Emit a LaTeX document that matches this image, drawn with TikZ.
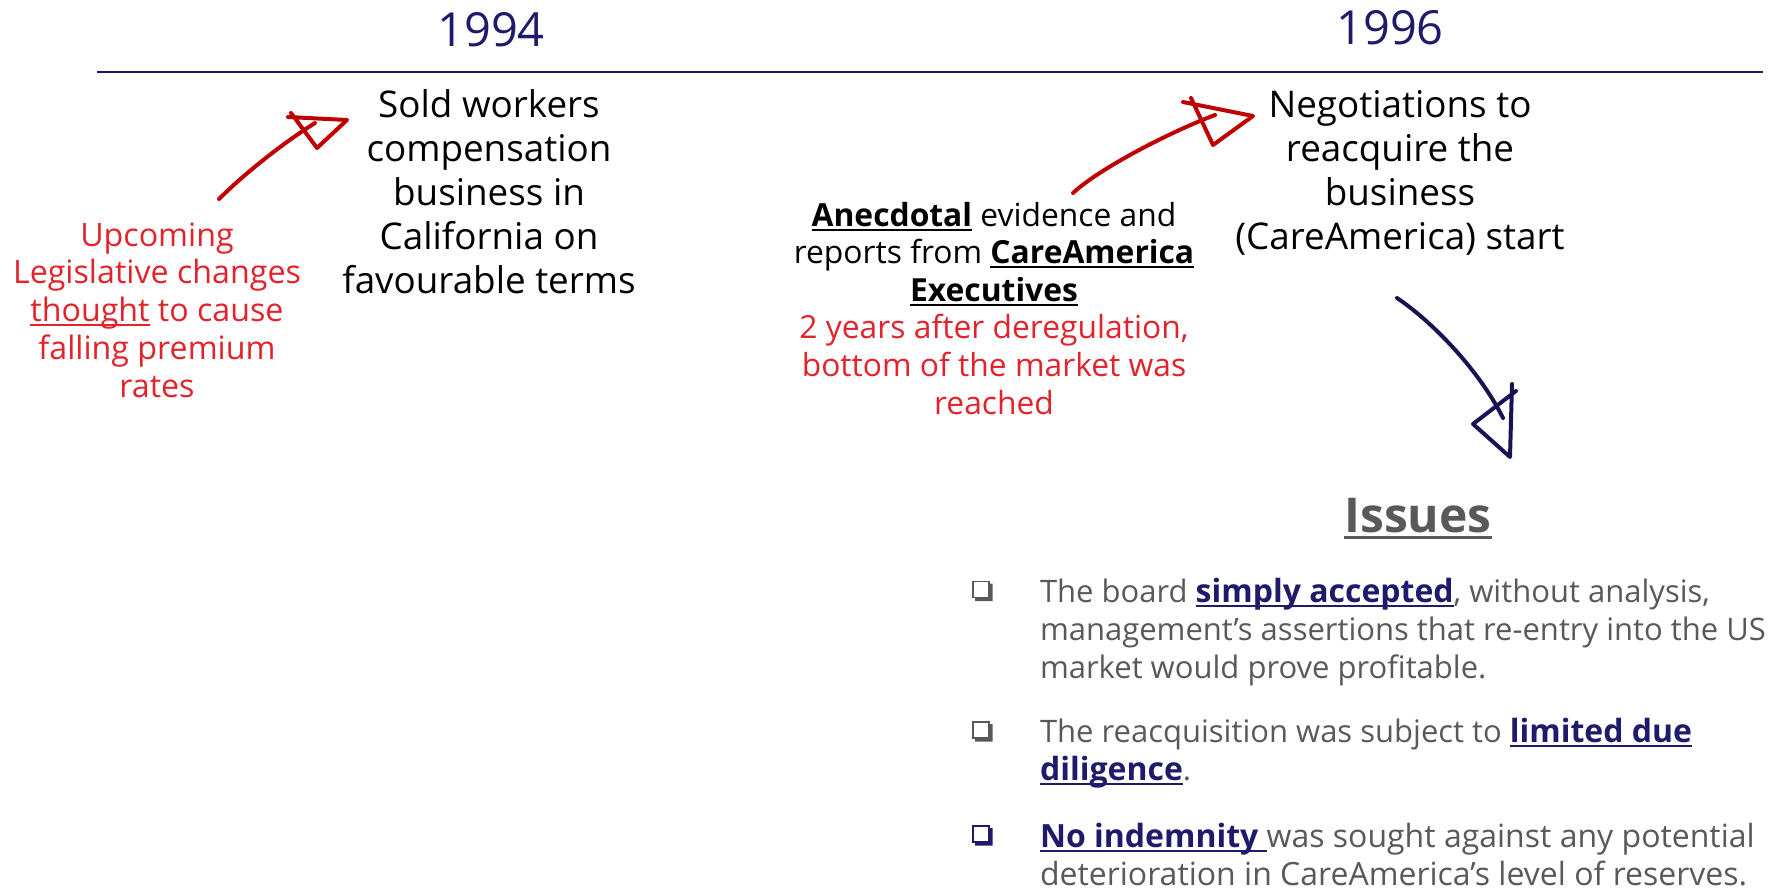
\documentclass[tikz,border=0pt]{standalone}
\usepackage{fontspec}
\setmainfont{Open Sans}
\usetikzlibrary{calc}
\definecolor{navy}{RGB}{31,27,107}
\definecolor{txtred}{RGB}{227,35,43}
\definecolor{inkred}{RGB}{192,0,0}
\definecolor{inknavy}{RGB}{22,20,84}
\definecolor{slate}{RGB}{89,89,89}
% underline that sits close to the baseline and crosses descenders
\newcommand\ulin[1]{\leavevmode\setbox0\hbox{#1}\rlap{\rule[-0.15em]{\wd0}{0.065em}}\box0\relax}
% bold, underlined key words in the issue list
\newcommand\keyw[1]{\textcolor{navy}{\fontsize{32}{38}\selectfont\ulin{\textbf{#1}}}}
\begin{document}
\begin{tikzpicture}[x=1pt,y=-1pt,
  every node/.style={inner sep=0pt, outer sep=0pt},
  year/.style={anchor=base, text=navy, font=\fontsize{47}{57}\selectfont},
  % multi-line nodes are placed by the baseline of their last line
  event/.style={anchor=base, align=center, text=black, font=\fontsize{36.8}{44}\selectfont},
  note/.style={anchor=base, align=center, font=\fontsize{31.8}{37.6}\selectfont},
  issue/.style={anchor=base west, align=left, text=slate, font=\fontsize{31}{38}\selectfont},
  chk/.style={draw, line width=1.3pt, minimum size=16pt},
  redink/.style={draw=inkred, line width=4pt, line cap=round, line join=round},
  navyink/.style={draw=inknavy, line width=4pt, line cap=round, line join=round}
]
\useasboundingbox (0,0) rectangle (1791,888);

% timeline
\node[year] (y94) at (491,47) {1994};
\node[year] (y96) at (1390,45) {1996};
\coordinate (tl0) at (97,72);
\coordinate (tl1) at (1763,72);
\draw[navy, line width=1.8pt] (tl0) -- (tl1);

% events
\node[event] (sold) at (489,293) {Sold workers\\compensation\\business in\\California on\\favourable terms};
\node[event] (nego) at (1400,249) {Negotiations to\\reacquire the\\business\\(CareAmerica) start};

% notes
\node[note, text=txtred, font=\fontsize{32.2}{37.7}\selectfont] (why) at (157,397) {Upcoming\\Legislative changes\\\ulin{thought} to cause\\falling premium\\rates};
\node[note, text=black] (evid) at (994,414) {\ulin{\textbf{Anecdotal}} evidence and\\reports from \ulin{\textbf{CareAmerica}}\\\ulin{\textbf{Executives}}\\\textcolor{txtred}{2 years after deregulation,}\\\textcolor{txtred}{bottom of the market was}\\\textcolor{txtred}{reached}};

% hand-drawn arrows
\coordinate (r1s) at (219,199);
\coordinate (r1e) at (315,123);
\draw[redink] (r1s) .. controls (242,176) and (280,145) .. (r1e);
\draw[redink] (288,117) -- (347,120) -- (317,148) -- (291,113);

\coordinate (r2s) at (1073,193);
\coordinate (r2e) at (1215,115);
\draw[redink] (r2s) .. controls (1100,168) and (1170,132) .. (r2e);
\draw[redink] (1183,102) -- (1253,116) -- (1213,145) -- (1191,98);

\coordinate (n1s) at (1397,298);
\coordinate (n1e) at (1503,418);
\draw[navyink] (n1s) .. controls (1430,320) and (1478,368) .. (n1e);
\draw[navyink] (1512,384) -- (1510,457) -- (1473,424) -- (1516,391);

% issues
\node[anchor=base, text=slate, font=\fontsize{48}{58}\selectfont\bfseries] (iss) at (1418,532) {\ulin{Issues}};

\node[issue] (i1) at (1040,678) {The board \keyw{simply accepted}, without analysis,\\management’s assertions that re-entry into the US\\market would prove profitable.};
\node[issue] (i2) at (1040,780) {The reacquisition was subject to \keyw{limited due}\\\keyw{diligence}.};
\node[issue, font=\fontsize{32}{38}\selectfont] (i3) at (1040,885) {\keyw{No indemnity }was sought against any potential\\deterioration in CareAmerica’s level of reserves.};

% check boxes with a shadow on the lower right
\foreach \n/\y/\c in {b1/589.5/slate, b2/730/slate, b3/834/navy}{
  \node[chk, draw=\c] (\n) at (981,\y) {};
  \fill[\c] ($(\n.north east)+(0,2)$) -- ($(\n.north east)+(3.5,2)$) -- ($(\n.south east)+(3.5,3.5)$)
    -- ($(\n.south west)+(2,3.5)$) -- ($(\n.south west)+(2,0)$) -- (\n.south east) -- cycle;
}
\end{tikzpicture}
\end{document}
